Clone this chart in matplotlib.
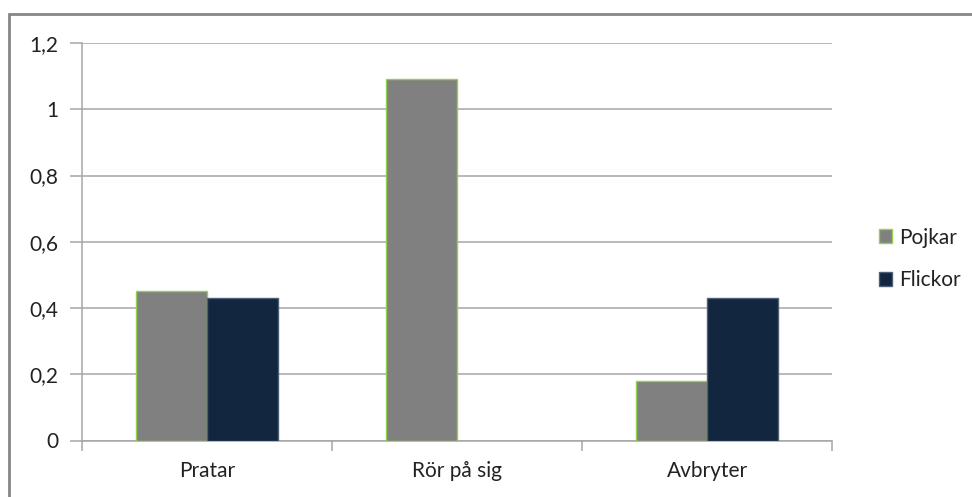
import matplotlib
matplotlib.use("Agg")
import matplotlib.pyplot as plt
import numpy as np
from matplotlib.patches import Rectangle

categories = ["Pratar", "Rör på sig", "Avbryter"]
series_names = ["Pojkar", "Flickor"]
pojkar = [0.45, 1.09, 0.18]
flickor = [0.43, 0.0, 0.43]
yticks = [0, 0.2, 0.4, 0.6, 0.8, 1.0, 1.2]
ytick_labels = ["0", "0,2", "0,4", "0,6", "0,8", "1", "1,2"]

plt.rcParams['font.family'] = ['Lato', 'DejaVu Sans']
FS = 15

W, H = 972, 497
fig = plt.figure(figsize=(W/100, H/100), dpi=100)
ax = fig.add_axes([82/W, 1-440.5/H, (832-82)/W, (440.5-43)/H])

x = np.arange(len(categories))
bw = 0.285
ax.bar(x - bw/2, pojkar, bw, color="#808080",
       edgecolor=["#92D050" if v > 0 else "none" for v in pojkar],
       linewidth=1.0, label=series_names[0], zorder=3)
ax.bar(x + bw/2, flickor, bw, color="#12263F",
       edgecolor=["#4F5F74" if v > 0 else "none" for v in flickor],
       linewidth=1.0, label=series_names[1], zorder=3)

ax.set_xlim(-0.5, len(categories)-0.5)
ax.set_ylim(0, 1.2)
ax.set_yticks(yticks)
ax.set_yticklabels(ytick_labels, fontsize=FS, color="#222222")
ax.yaxis.grid(True, color="#A6A6A6", linewidth=1.1, zorder=0)
ax.set_axisbelow(True)

ax.set_xticks(x)
ax.set_xticklabels(categories, fontsize=FS, color="#222222")
ax.set_xticks(np.arange(-0.5, len(categories), 1.0), minor=True)
ax.tick_params(axis='x', which='major', length=0, pad=15)
ax.tick_params(axis='x', which='minor', length=7, color="#A6A6A6", width=1.1)
ax.tick_params(axis='y', length=9, color="#A6A6A6", width=1.1, pad=8)

for s in ["top", "right"]:
    ax.spines[s].set_visible(False)
ax.spines["left"].set_color("#A6A6A6")
ax.spines["bottom"].set_color("#A6A6A6")
ax.spines["left"].set_linewidth(1.1)
ax.spines["bottom"].set_linewidth(1.1)

leg = fig.legend(loc="center left", bbox_to_anchor=(860/W, 1-259/H), frameon=False,
                 fontsize=FS, handlelength=0.65, handleheight=0.65, handletextpad=0.35,
                 labelspacing=1.1)
for t in leg.get_texts():
    t.set_color("#222222")

fig.patches.append(Rectangle((9/W, -0.1), 1.0, 1-14/H+0.1, transform=fig.transFigure,
                             fill=False, edgecolor="#868686", linewidth=2.0))

fig.savefig("out.png", dpi=100)
